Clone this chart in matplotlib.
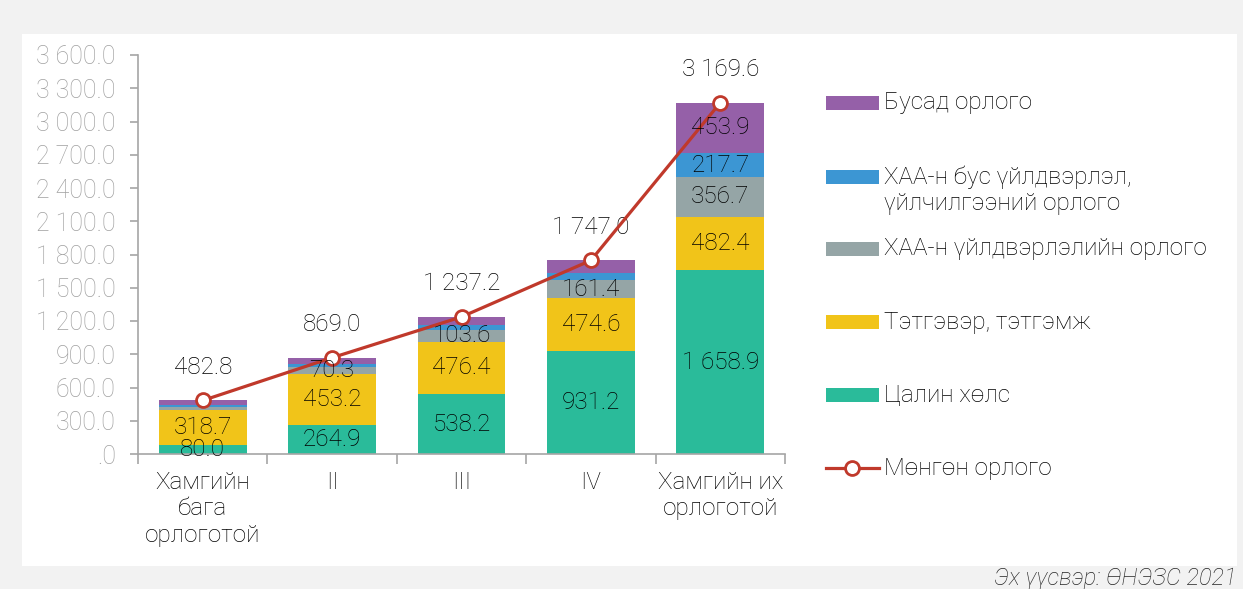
import numpy as np
import matplotlib.pyplot as plt
from matplotlib.patches import Rectangle
from matplotlib.lines import Line2D

categories = ["Хамгийн\nбага\nорлоготой", "II", "III", "IV", "Хамгийн их\nорлоготой"]
wages = [80.0, 264.9, 538.2, 931.2, 1658.9]
pensions = [318.7, 453.2, 476.4, 474.6, 482.4]
agri = [25.1, 70.3, 103.6, 161.4, 356.7]
non_agri = [14.0, 25.0, 43.0, 70.0, 217.7]
other = [45.0, 55.6, 76.0, 109.8, 453.9]
total = [482.8, 869.0, 1237.2, 1747.0, 3169.6]

series_names = ["Цалин хөлс", "Тэтгэвэр, тэтгэмж", "ХАА-н үйлдвэрлэлийн орлого",
                "ХАА-н бус үйлдвэрлэл,\nүйлчилгээний орлого", "Бусад орлого"]
line_name = "Мөнгөн орлого"
y_ticks = [0, 300, 600, 900, 1200, 1500, 1800, 2100, 2400, 2700, 3000, 3300, 3600]

colors = ["#2ABB9A", "#F1C419", "#95A5A6", "#3C96D3", "#9560A8"]
line_color = "#C0392B"
label_min = [0, 0, 50, 200, 200]  # small segments are left unlabelled

plt.rcParams["font.family"] = ["Roboto", "DejaVu Sans"]
plt.rcParams["font.weight"] = "light"
DARK = "#000000"


def fmt(v):
    s = f"{v:,.1f}".replace(",", " ")
    return ".0" if v == 0 else s


def main():
    fig = plt.figure(figsize=(12.43, 5.89), dpi=100, facecolor="#F2F2F2")
    panel = Rectangle((22 / 1243, 1 - 566 / 589), 1215 / 1243, 532 / 589,
                      transform=fig.transFigure, facecolor="white", edgecolor="none")
    panel.set_zorder(-5)
    fig.patches.append(panel)
    ax = fig.add_axes([138 / 1243, 1 - 454 / 589, 647 / 1243, 399 / 589])
    ax.set_facecolor("none")

    x = np.arange(len(categories))
    data = [wages, pensions, agri, non_agri, other]
    bottom = np.zeros(len(categories))
    for vals, col, name, lim in zip(data, colors, series_names, label_min):
        vals = np.array(vals)
        ax.bar(x, vals, 0.68, bottom=bottom, color=col, label=name, zorder=2)
        for xi, b, v in zip(x, bottom, vals):
            if v >= lim:
                ax.text(xi, b + v / 2, fmt(v), ha="center", va="center",
                        fontsize=17.5, color=DARK, zorder=5)
        bottom += vals

    ax.plot(x, total, color=line_color, lw=2.3, marker="o", markersize=10,
            markerfacecolor="white", markeredgecolor=line_color, markeredgewidth=2,
            zorder=4)
    for xi, t in zip(x, total):
        ax.annotate(fmt(t), (xi, t), xytext=(0, 24), textcoords="offset points",
                    ha="center", va="center", fontsize=17.5, color=DARK)

    ax.set_ylim(0, 3600)
    ax.set_xlim(-0.5, len(categories) - 0.5)
    ax.set_yticks(y_ticks)
    ax.set_yticklabels([fmt(v) for v in y_ticks])
    ax.tick_params(axis="y", length=6, width=1.2, color="#A6A6A6", labelcolor="#A0A0A0",
                   labelsize=18, pad=10)
    ax.set_xticks(np.arange(len(categories) + 1) - 0.5)
    ax.set_xticklabels([])
    ax.tick_params(axis="x", which="major", length=7, width=1.2, color="#A6A6A6")
    ax.set_xticks(x, minor=True)
    ax.set_xticklabels(categories, minor=True, fontsize=17.5, color=DARK,
                       linespacing=1.2)
    ax.tick_params(axis="x", which="minor", length=0, pad=12)
    for s in ["top", "right"]:
        ax.spines[s].set_visible(False)
    for s in ["left", "bottom"]:
        ax.spines[s].set_color("#A6A6A6")
        ax.spines[s].set_linewidth(1.2)

    # legend drawn by hand to follow the original spacing
    legend_rows = [(4, 103, 103), (3, 177, 190.5), (2, 249, 249), (1, 322, 322), (0, 395, 395)]
    for idx, yp, yt in legend_rows:
        fig.patches.append(Rectangle((826 / 1243, 1 - (yp + 7) / 589), 53 / 1243, 14 / 589,
                                     transform=fig.transFigure, facecolor=colors[idx],
                                     edgecolor="none"))
        fig.text(884 / 1243, 1 - yt / 589, series_names[idx], ha="left", va="center",
                 fontsize=17.5, color=DARK, linespacing=1.15)
    fig.lines.append(Line2D([826 / 1243, 879 / 1243], [1 - 468 / 589] * 2,
                            transform=fig.transFigure, color=line_color, lw=2.3))
    fig.lines.append(Line2D([852 / 1243], [1 - 468 / 589], transform=fig.transFigure,
                            marker="o", markersize=10, markerfacecolor="white",
                            markeredgecolor=line_color, markeredgewidth=2))
    fig.text(884 / 1243, 1 - 468 / 589, line_name, ha="left", va="center",
             fontsize=17.5, color=DARK)

    fig.text(1237 / 1243, 1 - 579 / 589, "Эх үүсвэр: ӨНЭЗС 2021", ha="right",
             va="center", fontsize=17, style="italic", color="#262626")

    fig.savefig("out.png", dpi=100, facecolor=fig.get_facecolor())


if __name__ == "__main__":
    main()
